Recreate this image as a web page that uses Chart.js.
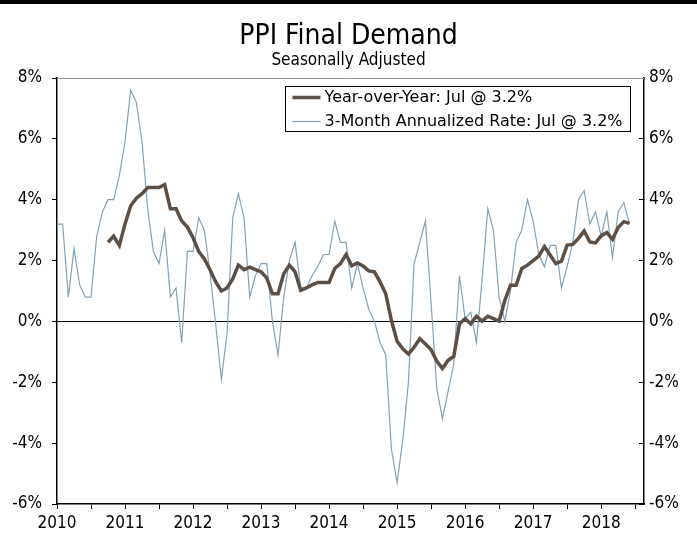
<!DOCTYPE html>
<html>
<head>
<meta charset="utf-8">
<script src="https://cdn.jsdelivr.net/npm/chart.js@4/dist/chart.umd.min.js"></script>
<style>
	body { margin: 0; background: #fff; }
	#wrap { width: 697px; height: 532px; border-top: 4px solid #000; }
</style>
</head>
<body>
<div id="wrap"><canvas id="ppi" width="697" height="532"></canvas></div>
<script>
// monthly, first value is Jan 2010
var firstYear = 2010;
var yTicks = [-6, -4, -2, 0, 2, 4, 6, 8];

var threeMonth = [
	3.2, 3.2, 0.8, 2.4, 1.2, 0.8, 0.8, 2.8, 3.6, 4.0, 4.0, 4.8,
	5.9, 7.6, 7.2, 5.9, 3.7, 2.3, 1.9, 3.0, 0.8, 1.1, -0.7, 2.3,
	2.3, 3.4, 3.0, 1.6, -0.1, -1.9, -0.4, 3.4, 4.2, 3.4, 0.8, 1.5,
	1.9, 1.9, 0.0, -1.1, 0.8, 2.0, 2.6, 1.1, 1.1, 1.5, 1.8, 2.2,
	2.2, 3.3, 2.6, 2.6, 1.1, 1.9, 1.1, 0.4, 0.0, -0.7, -1.1, -4.2,
	-5.3, -3.9, -2.0, 1.9, 2.6, 3.3, 0.6, -2.2, -3.2, -2.3, -1.4, 1.5,
	0.1, 0.3, -0.7, 1.4, 3.7, 3.0, 0.8, 0.0, 1.0, 2.6, 3.0, 4.0,
	3.3, 2.2, 1.8, 2.5, 2.5, 1.1, 1.8, 2.6, 4.0, 4.3, 3.2, 3.6,
	2.8, 3.6, 2.1, 3.6, 3.9, 3.2
];

var yearOverYear = [
	null, null, null, null, null, null, null, null, null, 2.6, 2.8, 2.5,
	3.2, 3.8, 4.05, 4.2, 4.4, 4.4, 4.4, 4.5, 3.7, 3.7, 3.3, 3.1,
	2.75, 2.3, 2.05, 1.7, 1.3, 1.0, 1.1, 1.4, 1.85, 1.7, 1.78, 1.7,
	1.63, 1.43, 0.91, 0.91, 1.57, 1.85, 1.63, 1.02, 1.1, 1.2, 1.28, 1.28,
	1.28, 1.74, 1.9, 2.2, 1.83, 1.92, 1.82, 1.66, 1.63, 1.3, 0.91, 0.03,
	-0.65, -0.9, -1.07, -0.85, -0.57, -0.74, -0.93, -1.3, -1.55, -1.28, -1.15, -0.08,
	0.09, -0.08, 0.17, 0.01, 0.17, 0.09, 0.01, 0.69, 1.19, 1.19, 1.74, 1.85,
	2.0, 2.15, 2.46, 2.18, 1.9, 1.98, 2.51, 2.53, 2.73, 2.97, 2.61, 2.58,
	2.81, 2.92, 2.7, 3.09, 3.28, 3.22
];

var seriesNames = ['Year-over-Year: Jul @ 3.2%', '3-Month Annualized Rate: Jul @ 3.2%'];

var FONT = '"DejaVu Sans Condensed", "DejaVu Sans", sans-serif';

function toPoints(values) {
	return values.map(function(v, i) {
		return { x: firstYear + i / 12, y: v };
	});
}

function pct(v) {
	return v + '%';
}

// boxed legend in the top right corner of the plot, plus the grey top edge
var boxLegend = {
	id: 'boxLegend',
	afterDatasetsDraw: function(chart) {
		var ctx = chart.ctx;
		var area = chart.chartArea;
		ctx.save();
		ctx.strokeStyle = '#999';
		ctx.lineWidth = 1;
		ctx.beginPath();
		ctx.moveTo(area.left, area.top + 0.5);
		ctx.lineTo(area.right, area.top + 0.5);
		ctx.stroke();

		ctx.font = '16px "DejaVu Sans", sans-serif';
		var sets = chart.data.datasets;
		var textW = 0;
		sets.forEach(function(ds) {
			textW = Math.max(textW, ctx.measureText(ds.label).width);
		});
		var w = Math.round(39 + textW + 8);
		var h = 45;
		var left = Math.round(area.right - 14 - w) + 0.5;
		var top = area.top + 8.5;
		ctx.fillStyle = '#fff';
		ctx.fillRect(left, top, w, h);
		ctx.strokeStyle = '#000';
		ctx.strokeRect(left, top, w, h);
		ctx.textBaseline = 'middle';
		ctx.fillStyle = '#000';
		sets.forEach(function(ds, i) {
			var y = top + 11 + i * 24;
			ctx.strokeStyle = ds.borderColor;
			ctx.lineWidth = ds.borderWidth;
			ctx.beginPath();
			ctx.moveTo(left + 7, y);
			ctx.lineTo(left + 35, y);
			ctx.stroke();
			ctx.fillText(ds.label, left + 39, y);
		});
		ctx.restore();
	}
};

new Chart(document.getElementById('ppi'), {
	type: 'line',
	data: {
		datasets: [ {
			label: seriesNames[0],
			data: toPoints(yearOverYear),
			borderColor: '#5c4f45',
			borderWidth: 3.5,
			pointRadius: 0,
			spanGaps: false,
			order: 1
		}, {
			label: seriesNames[1],
			data: toPoints(threeMonth),
			borderColor: '#83a2b8',
			borderWidth: 1.2,
			pointRadius: 0,
			order: 2
		} ]
	},
	options: {
		responsive: false,
		animation: false,
		layout: { padding: 0 },
		plugins: {
			legend: { display: false },
			tooltip: { enabled: false },
			title: {
				display: true,
				text: 'PPI Final Demand',
				color: '#000',
				font: { family: FONT, size: 28, weight: 'normal', lineHeight: 1 },
				padding: { top: 19, bottom: 1 }
			},
			subtitle: {
				display: true,
				text: 'Seasonally Adjusted',
				color: '#000',
				font: { family: FONT, size: 17, lineHeight: 1 },
				padding: { top: 0, bottom: 9 }
			}
		},
		scales: {
			x: {
				type: 'linear',
				min: firstYear,
				max: 2018.63,
				afterFit: function(s) { s.height = 32; },
				border: { color: '#000', width: 1.5 },
				grid: { drawOnChartArea: false, tickLength: 5, tickColor: '#000' },
				ticks: {
					stepSize: 0.5,
					includeBounds: false,
					autoSkip: false,
					maxRotation: 0,
					padding: 4,
					color: '#000',
					font: { family: FONT, size: 17 },
					callback: function(v) {
						return Number.isInteger(v) ? String(v) : '';
					}
				}
			},
			y: {
				position: 'left',
				min: yTicks[0],
				max: yTicks[yTicks.length - 1],
				afterFit: function(s) { s.width = 57; },
				border: { color: '#000', width: 1.5 },
				grid: {
					tickLength: 5,
					tickColor: '#000',
					color: function(c) {
						return c.tick && c.tick.value === 0 ? '#000' : 'rgba(0,0,0,0)';
					}
				},
				ticks: {
					stepSize: 2,
					padding: 10,
					color: '#000',
					font: { family: FONT, size: 17 },
					callback: pct
				}
			},
			y2: {
				position: 'right',
				min: yTicks[0],
				max: yTicks[yTicks.length - 1],
				afterFit: function(s) { s.width = 53; },
				border: { color: '#000', width: 1.5 },
				grid: { drawOnChartArea: false, tickLength: -5, tickColor: '#000' },
				ticks: {
					stepSize: 2,
					padding: 10,
					color: '#000',
					font: { family: FONT, size: 17 },
					callback: pct
				}
			}
		}
	},
	plugins: [ boxLegend ]
});
</script>
</body>
</html>
